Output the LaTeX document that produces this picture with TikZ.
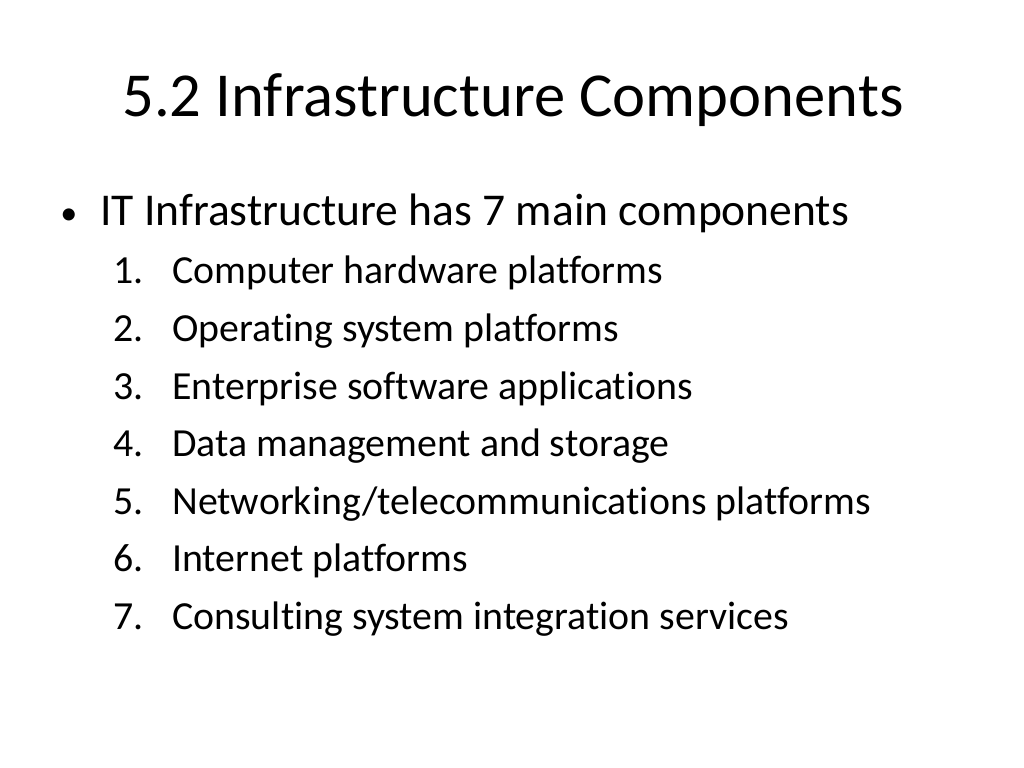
\documentclass[tikz,border=0pt]{standalone}
\usepackage{fontspec}
\setmainfont{Carlito}[RawFeature=-liga]
\begin{document}
\begin{tikzpicture}[x=0.703125pt,y=-0.703125pt,
  txt/.style={anchor=base west,inner sep=0pt,font=\fontsize{28}{32}\selectfont},
  num/.style={anchor=base west,inner sep=0pt,font=\fontsize{28}{32}\selectfont}]
\useasboundingbox (0,0) rectangle (1024,768);
\node[anchor=base west,inner sep=0pt,font=\fontsize{44}{50}\selectfont] (title) at (122,117) {5.2 Infrastructure Components};
\node[anchor=base west,inner sep=0pt,font=\fontsize{24}{32}\selectfont] (bul) at (60,225) {•};
\node[anchor=base west,inner sep=0pt,font=\fontsize{32}{36}\selectfont] (main) at (100,226) {IT Infrastructure has 7 main components};
\foreach \t [count=\k] in {{Computer hardware platforms},{Operating system platforms},{Enterprise software applications},{Data management and storage},{Networking/telecommunications platforms},{Internet platforms},{Consulting system integration services}}{
  \node[num] (n\k) at (113,{284+57.5*(\k-1)}) {\k.};
  \node[txt] (t\k) at (172,{284+57.5*(\k-1)}) {\t};
}
\end{tikzpicture}
\end{document}
